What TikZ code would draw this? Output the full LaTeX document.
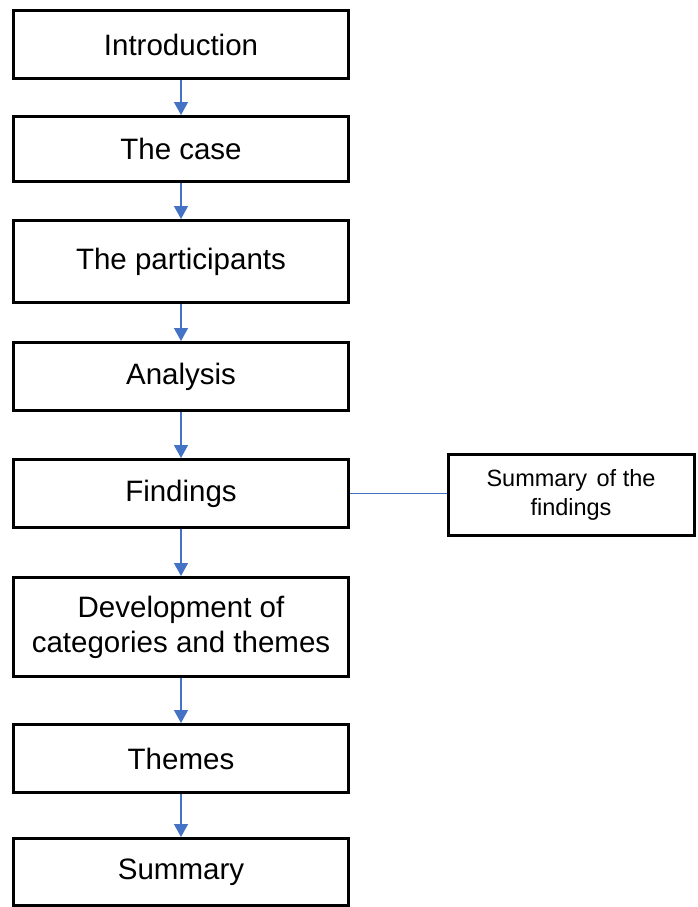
\documentclass[tikz,border=0pt]{standalone}
\usepackage{fontspec}
\setmainfont{Liberation Sans}
\usetikzlibrary{arrows.meta}
\definecolor{linkblue}{HTML}{4472C4}
\tikzset{
  box/.style={draw=black, line width=3pt, rectangle, fill=white, minimum width=335pt, inner sep=0pt, align=center, font=\fontsize{29.5}{35}\selectfont},
  sidebox/.style={draw=black, line width=3pt, rectangle, fill=white, minimum width=246pt, minimum height=81pt, inner sep=0pt, align=center, font=\fontsize{23.5}{29}\selectfont},
  flow/.style={draw=linkblue, line width=1.3pt, -{Triangle[width=14pt,length=13pt]}},
  link/.style={draw=linkblue, line width=1.4pt}
}
\begin{document}
\begin{tikzpicture}[x=1pt,y=-1pt]
\useasboundingbox (0,0) rectangle (697,907);
\node[box, minimum height=68pt] (intro) at (181,44.5) {Introduction};
\node[box, minimum height=65pt] (case) at (181,149) {The case};
\node[box, minimum height=82pt] (part) at (181,261.5) {The participants};
\node[box, minimum height=68pt] (anal) at (181,376.5) {Analysis};
\node[box, minimum height=68pt] (find) at (181,493.5) {Findings};
\node[box, minimum height=99pt] (dev) at (181,627) {Development of\\categories and themes};
\node[box, minimum height=68pt] (themes) at (181,758.5) {Themes};
\node[box, minimum height=67pt] (summ) at (181,872) {Summary};
\node[sidebox] (sumf) at (571,495) {Summary\hspace{3pt} of the\\findings};
\draw[flow] (intro) -- (case);
\draw[flow] (case) -- (part);
\draw[flow] (part) -- (anal);
\draw[flow] (anal) -- (find);
\draw[flow] (find) -- (dev);
\draw[flow] (dev) -- (themes);
\draw[flow] (themes) -- (summ);
\draw[link] (find.east) -- (sumf.west |- find.east);
\end{tikzpicture}
\end{document}
